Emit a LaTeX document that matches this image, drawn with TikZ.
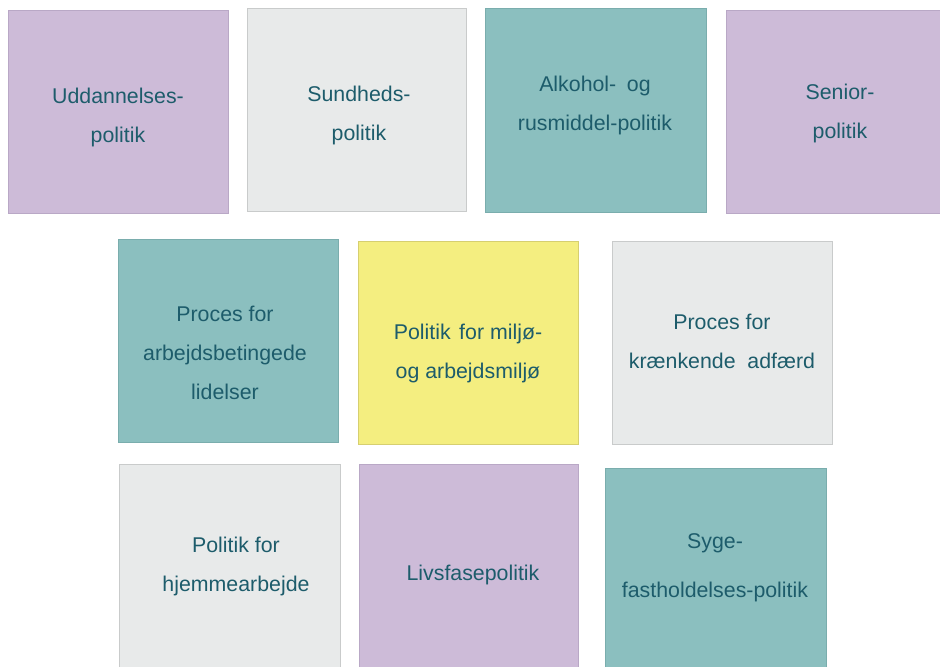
\documentclass[tikz,border=0pt]{standalone}
\usepackage{fontspec}
\setmainfont{Liberation Sans}
\definecolor{purp}{HTML}{CDBBD8}
\definecolor{purpb}{HTML}{B9A8C6}
\definecolor{grayf}{HTML}{E8EAEA}
\definecolor{grayb}{HTML}{C9CBCB}
\definecolor{teal}{HTML}{8BBFBF}
\definecolor{tealb}{HTML}{7AADAD}
\definecolor{yell}{HTML}{F4EE80}
\definecolor{yellb}{HTML}{D6CF70}
\definecolor{txt}{HTML}{1D5C6B}
\begin{document}
\begin{tikzpicture}[x=0.75pt,y=-0.75pt,
  card/.style={line width=0.6pt},
  cpurp/.style={card,fill=purp,draw=purpb},
  cgray/.style={card,fill=grayf,draw=grayb},
  cteal/.style={card,fill=teal,draw=tealb},
  cyell/.style={card,fill=yell,draw=yellb},
  lbl/.style={align=center,text=txt,inner sep=0pt,font=\fontsize{16}{29.25}\selectfont},
  lblw/.style={align=center,text=txt,inner sep=0pt,font=\fontsize{16}{36.75}\selectfont}]
\useasboundingbox (0,0) rectangle (940,667);
% row 1
\draw[cpurp] (8,10) rectangle (228,213) node[pos=0.5] (a) {};
\draw[cgray] (247,8) rectangle (466,211) node[pos=0.5] (b) {};
\draw[cteal] (485,8) rectangle (706,212) node[pos=0.5] (c) {};
\draw[cpurp] (726,10) rectangle (941,213) node[pos=0.5] (d) {};
% row 2
\draw[cteal] (118,239) rectangle (338,442) node[pos=0.5] (e) {};
\draw[cyell] (358,241) rectangle (578,444) node[pos=0.5] (f) {};
\draw[cgray] (612,241) rectangle (832,444) node[pos=0.5] (g) {};
% row 3
\draw[cgray] (119,464) rectangle (340,668) node[pos=0.5] (h) {};
\draw[cpurp] (359,464) rectangle (578,668) node[pos=0.5] (i) {};
\draw[cteal] (605,468) rectangle (826,668) node[pos=0.5] (j) {};
% labels
\node[lbl] (ta) at (118,117.5) {Uddannelses-\\politik};
\node[lbl] (tb) at (359,115) {Sundheds-\\politik};
\node[lbl] (tc) at (595,105) {Alkohol-\hspace{0.5em}og\\rusmiddel-politik};
\node[lbl] (td) at (840,113) {Senior-\\politik};
\node[lbl] (te) at (225,352.5) {Proces for\\arbejdsbetingede\\lidelser};
\node[lbl] (tf) at (468,353) {Politik\hspace{0.4em}for miljø-\\og arbejdsmiljø};
\node[lbl] (tg) at (722,341.5) {Proces for\\krænkende\ \ adfærd};
\node[lbl] (th) at (236,566) {Politik for\\hjemmearbejde};
\node[lbl] (ti) at (473,575) {Livsfasepolitik};
\node[lblw] (tj) at (715,567.5) {Syge-\\fastholdelses-politik};
\end{tikzpicture}
\end{document}
